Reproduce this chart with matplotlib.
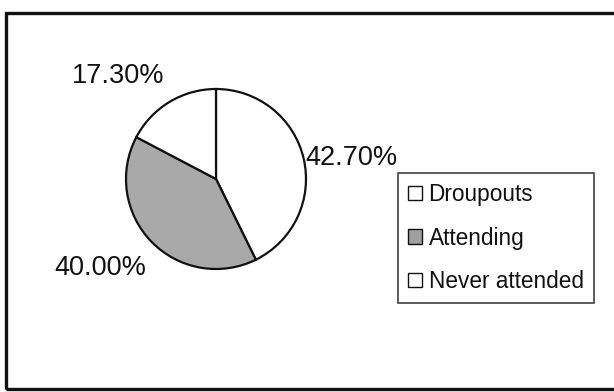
import matplotlib
matplotlib.use("Agg")
import matplotlib.pyplot as plt
from matplotlib.patches import Rectangle, Patch

categories = ["Droupouts", "Attending", "Never attended"]
values = [42.70, 40.00, 17.30]
value_labels = ["42.70%", "40.00%", "17.30%"]
colors = ["white", "#a9a9a9", "white"]

W, H = 614, 392
fig = plt.figure(figsize=(W / 100, H / 100), dpi=100)
plt.rcParams['font.family'] = ['Liberation Sans', 'DejaVu Sans']

# outer frame
fig.patches.append(Rectangle((6 / W, 3 / H), 1.0, (389 - 13) / H, transform=fig.transFigure,
                             fill=False, edgecolor="#111111", linewidth=2.4, clip_on=False))

ax = fig.add_axes([0, 0, 1, 1])
ax.set_xlim(0, W)
ax.set_ylim(0, H)
ax.set_aspect('equal')
ax.axis('off')

cx, cy, r = 216, H - 179, 90
wedges, texts = ax.pie(values, colors=colors, startangle=90, counterclock=False,
                       center=(cx, cy), radius=r, labels=value_labels, labeldistance=1.55,
                       wedgeprops=dict(edgecolor="#111111", linewidth=1.6),
                       textprops=dict(fontsize=19.5, color="#111111"))
ax.set_xlim(0, W)
ax.set_ylim(0, H)

# label placements (layout)
label_pos = [(351, 158), (100, 268), (118, 76)]
for t, (x, y) in zip(texts, label_pos):
    t.set_position((x, H - y))
    t.set_ha('center')
    t.set_va('center')

handles = [Patch(facecolor=c, edgecolor="#111111", linewidth=1.0) for c in ["white", "#a0a0a0", "white"]]
leg = fig.legend(handles, categories, loc='upper left', bbox_to_anchor=(398 / W, 1 - 173 / H),
                 frameon=True, fancybox=False, fontsize=16.3, handlelength=0.6, handleheight=0.6,
                 handletextpad=0.3, borderpad=0.45, labelspacing=0.9, borderaxespad=0)
leg.get_frame().set_edgecolor("#111111")
leg.get_frame().set_linewidth(1.2)
for t in leg.get_texts():
    t.set_color("#111111")

fig.savefig("out.png", dpi=100)
